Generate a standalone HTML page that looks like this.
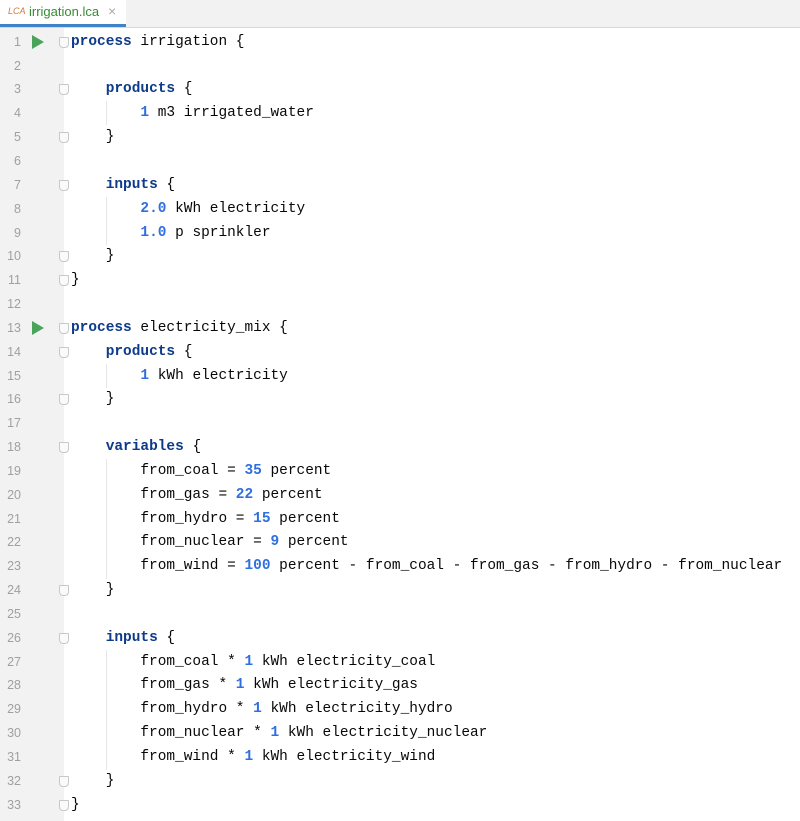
<!DOCTYPE html>
<html><head><style>
body{margin:0;width:800px;height:821px;overflow:hidden;background:#fff;font-family:"Liberation Mono",monospace;}
#tabbar{position:absolute;left:0;top:0;width:800px;height:27px;background:#f2f2f2;border-bottom:1px solid #d8d8d8;}
#tab{position:absolute;left:0;top:0;width:126px;height:24px;background:#fff;border-bottom:3px solid #4083c9;font-family:"Liberation Sans",sans-serif;font-size:13px;color:#388a34;}
#gutter{position:absolute;left:0;top:28px;width:64px;height:793px;background:#f2f2f2;}
.ln{position:absolute;left:0;width:21px;text-align:right;font-size:12.5px;color:#a0a0a0;font-family:"Liberation Sans",sans-serif;height:23.84px;line-height:23.84px;}
.code{position:absolute;left:71px;font-size:14.46px;white-space:pre;color:#080808;height:23.84px;line-height:23.84px;}
.k{color:#0d3a8a;font-weight:bold}
.n{color:#2f6fe0;font-weight:bold}
.run{position:absolute;left:32px;width:0;height:0;border-left:12px solid #4ca35c;border-top:7px solid transparent;border-bottom:7px solid transparent;}
.fold{position:absolute;left:59px;width:8px;height:9px;border:1px solid #c8c8c8;background:#fafafa;border-radius:1px 1px 4px 4px;}
.guide{position:absolute;width:1px;background:#e6e6e6;}
</style></head><body>
<div id="tabbar"><div id="tab"><span style="position:absolute;left:8px;top:6px;font-size:9px;color:#d07b3c;font-style:italic">LCA</span><span style="position:absolute;left:29px;top:4px">irrigation.lca</span><span style="position:absolute;left:108px;top:3px;color:#aaa;font-size:14px">×</span></div></div>
<div id="gutter"></div>
<div class="guide" style="left:106px;top:101px;height:24px"></div>
<div class="guide" style="left:106px;top:197px;height:48px"></div>
<div class="guide" style="left:106px;top:364px;height:24px"></div>
<div class="guide" style="left:106px;top:459px;height:120px"></div>
<div class="guide" style="left:106px;top:650px;height:120px"></div>
<div id="lines"></div>
<script>
var L=[
'<span class="k">process</span> irrigation {','',
'    <span class="k">products</span> {',
'        <span class="n">1</span> m3 irrigated_water','    }','',
'    <span class="k">inputs</span> {',
'        <span class="n">2.0</span> kWh electricity',
'        <span class="n">1.0</span> p sprinkler','    }','}','',
'<span class="k">process</span> electricity_mix {',
'    <span class="k">products</span> {',
'        <span class="n">1</span> kWh electricity','    }','',
'    <span class="k">variables</span> {',
'        from_coal = <span class="n">35</span> percent',
'        from_gas = <span class="n">22</span> percent',
'        from_hydro = <span class="n">15</span> percent',
'        from_nuclear = <span class="n">9</span> percent',
'        from_wind = <span class="n">100</span> percent - from_coal - from_gas - from_hydro - from_nuclear',
'    }','',
'    <span class="k">inputs</span> {',
'        from_coal * <span class="n">1</span> kWh electricity_coal',
'        from_gas * <span class="n">1</span> kWh electricity_gas',
'        from_hydro * <span class="n">1</span> kWh electricity_hydro',
'        from_nuclear * <span class="n">1</span> kWh electricity_nuclear',
'        from_wind * <span class="n">1</span> kWh electricity_wind',
'    }','}'];
var folds=[1,3,5,7,10,11,13,14,16,18,24,26,32,33];
var h='';
var T0=30.8;
for(var i=0;i<L.length;i++){var t=T0+i*23.84;
h+='<div class="ln" style="top:'+t+'px">'+(i+1)+'</div><div class="code" style="top:'+t+'px">'+L[i]+'</div>';}
folds.forEach(function(n){h+='<div class="fold" style="top:'+(T0+(n-1)*23.84+6)+'px"></div>';});
[1,13].forEach(function(n){h+='<div class="run" style="top:'+(T0+(n-1)*23.84+4)+'px"></div>';});
document.getElementById('lines').innerHTML=h;
</script>
</body></html>
